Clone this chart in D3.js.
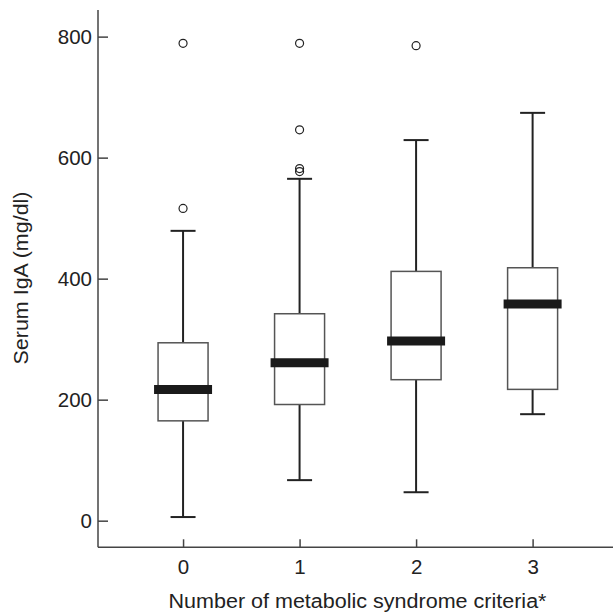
<!DOCTYPE html>
<html>
<head>
<meta charset="utf-8">
<script src="https://cdn.jsdelivr.net/npm/d3@7"></script>
<style>
html,body{margin:0;padding:0;background:#fff;}
svg{display:block;font-family:"Liberation Sans",Arial,Helvetica,sans-serif;}
</style>
</head>
<body>
<svg id="chart" width="613" height="615"></svg>
<script>
const categories = ["0", "1", "2", "3"];
const whiskerLow = [6, 67, 47, 176];
const q1 = [165, 192, 233, 217];
const median = [217, 261, 297, 358];
const q3 = [294, 342, 412, 418];
const whiskerHigh = [479, 565, 629, 674];
const outliers = [[516, 789], [577, 582, 646, 789], [785], []];
const yTicks = [0, 200, 400, 600, 800];
const xTitle = "Number of metabolic syndrome criteria*";
const yTitle = "Serum IgA (mg/dl)";

const svg = d3.select("#chart");
const x = d3.scaleLinear().domain([-0.73, 3.69]).range([98, 613]);
const y = d3.scaleLinear().domain([-44, 844]).range([547.3, 10]);

const data = categories.map((c, i) => ({
  c, i, lo: whiskerLow[i], q1: q1[i], med: median[i], q3: q3[i], hi: whiskerHigh[i], out: outliers[i]
}));

const axisColor = "#444";
const textColor = "#222";
const fontFam = "Liberation Sans, Arial, sans-serif";
// Y axis
const yAxis = svg.append("g").attr("transform", "translate(98,0)")
  .call(d3.axisRight(y).tickValues(yTicks).tickSize(10).tickFormat(d3.format("d")));
yAxis.select(".domain").attr("stroke", axisColor).attr("stroke-width", 1.5).attr("d", `M0,${y(-44)}V${y(844)}`);
yAxis.selectAll(".tick line").attr("stroke", axisColor).attr("stroke-width", 1.5);
yAxis.selectAll(".tick text").attr("x", -6).attr("text-anchor", "end")
  .attr("font-size", 20.5).attr("fill", textColor).attr("font-family", fontFam);

// X axis
const xAxis = svg.append("g").attr("transform", "translate(0,547.3)")
  .call(d3.axisTop(x).tickValues(categories.map((c, i) => i)).tickSize(8).tickFormat(i => categories[i]));
xAxis.select(".domain").attr("stroke", axisColor).attr("stroke-width", 1.5).attr("d", `M${x(-0.73)},0H613`);
xAxis.selectAll(".tick line").attr("stroke", axisColor).attr("stroke-width", 1.5);
xAxis.selectAll(".tick text").attr("y", 27).attr("dy", 0).attr("text-anchor", "middle")
  .attr("font-size", 20.5).attr("fill", textColor).attr("font-family", fontFam);

// Titles
svg.append("text").attr("x", 357.5).attr("y", 608).attr("text-anchor", "middle")
  .attr("font-size", 20).attr("fill", textColor)
  .attr("textLength", 378).attr("lengthAdjust", "spacingAndGlyphs").text(xTitle);
svg.append("text").attr("transform", "translate(28,278) rotate(-90)").attr("text-anchor", "middle")
  .attr("font-size", 20).attr("fill", textColor)
  .attr("textLength", 173).attr("lengthAdjust", "spacingAndGlyphs").text(yTitle);

const boxHalf = 25, medHalf = 29, capHalf = 12.5;
const g = svg.append("g");
const groups = g.selectAll("g.box").data(data).join("g").attr("class", "box");

// whiskers
groups.append("line").attr("x1", d => x(d.i)).attr("x2", d => x(d.i))
  .attr("y1", d => y(d.q3)).attr("y2", d => y(d.hi)).attr("stroke", "#222").attr("stroke-width", 2);
groups.append("line").attr("x1", d => x(d.i)).attr("x2", d => x(d.i))
  .attr("y1", d => y(d.q1)).attr("y2", d => y(d.lo)).attr("stroke", "#222").attr("stroke-width", 2);
groups.append("line").attr("x1", d => x(d.i) - capHalf).attr("x2", d => x(d.i) + capHalf)
  .attr("y1", d => y(d.hi)).attr("y2", d => y(d.hi)).attr("stroke", "#222").attr("stroke-width", 2);
groups.append("line").attr("x1", d => x(d.i) - capHalf).attr("x2", d => x(d.i) + capHalf)
  .attr("y1", d => y(d.lo)).attr("y2", d => y(d.lo)).attr("stroke", "#222").attr("stroke-width", 2);
// box
groups.append("rect").attr("x", d => x(d.i) - boxHalf).attr("width", boxHalf * 2)
  .attr("y", d => y(d.q3)).attr("height", d => y(d.q1) - y(d.q3))
  .attr("fill", "#fff").attr("stroke", "#555").attr("stroke-width", 1.5);
// median
groups.append("line").attr("x1", d => x(d.i) - medHalf).attr("x2", d => x(d.i) + medHalf)
  .attr("y1", d => y(d.med)).attr("y2", d => y(d.med)).attr("stroke", "#1a1a1a").attr("stroke-width", 9);
// outliers
groups.selectAll("circle").data(d => d.out.map(v => ({ i: d.i, v }))).join("circle")
  .attr("cx", d => x(d.i)).attr("cy", d => y(d.v)).attr("r", 4)
  .attr("fill", "none").attr("stroke", "#222").attr("stroke-width", 1.2);
</script>
</body>
</html>
